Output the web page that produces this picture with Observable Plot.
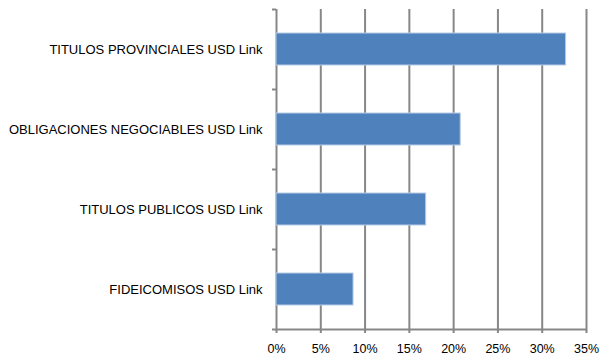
<!DOCTYPE html>
<html>
<head>
<meta charset="utf-8">
<script src="https://cdn.jsdelivr.net/npm/d3@7"></script>
<script src="https://cdn.jsdelivr.net/npm/@observablehq/plot@0.6"></script>
<style>
  html, body { margin: 0; padding: 0; background: #fff; }
  #chart svg { display: block; }
</style>
</head>
<body>
<div id="chart"></div>
<script>
const categories = [
  "TITULOS PROVINCIALES USD Link",
  "OBLIGACIONES NEGOCIABLES USD Link",
  "TITULOS PUBLICOS USD Link",
  "FIDEICOMISOS USD Link"
];
const values = [0.327, 0.208, 0.169, 0.087];
const xTicks = [0, 0.05, 0.10, 0.15, 0.20, 0.25, 0.30, 0.35];

const data = categories.map((c, i) => ({category: c, value: values[i]}));

const W = 600, H = 355;
const mTop = 9, mBottom = 26, mLeft = 276, mRight = 14;
const half = (H - mTop - mBottom) / categories.length / 2;
const tickLen = 4 * (xTicks[xTicks.length - 1] - xTicks[0]) / (W - mLeft - mRight);
const grey = "#878787";

const chart = Plot.plot({
  width: W,
  height: H,
  marginTop: mTop,
  marginBottom: mBottom,
  marginLeft: mLeft,
  marginRight: mRight,
  style: {fontFamily: "'Liberation Sans', Arial, sans-serif", fontSize: "12px", color: "#000", background: "#fff"},
  x: {domain: [xTicks[0], xTicks[xTicks.length - 1]], label: null},
  y: {domain: categories, paddingInner: 0.6, paddingOuter: 0.3, align: 0.5, label: null},
  marks: [
    Plot.ruleX(xTicks, {stroke: grey, strokeWidth: 2}),
    Plot.ruleY(categories, {x1: -tickLen, x2: 0, dy: -half, stroke: grey, strokeWidth: 2}),
    Plot.ruleY([categories[categories.length - 1]], {x1: -tickLen, x2: xTicks[xTicks.length - 1], dy: half, stroke: grey, strokeWidth: 2}),
    Plot.barX(data, {y: "category", x: "value", fill: "#4F81BD", stroke: "#B9CDE5", strokeWidth: 1}),
    Plot.axisX({ticks: xTicks, tickFormat: d3.format(".0%"), tickSize: 4, tickPadding: 11, stroke: grey, strokeWidth: 2, fontSize: 12.5, fill: "#000", label: null}),
    Plot.axisY({tickSize: 0, tickPadding: 14, fontSize: 13, fill: "#000", label: null})
  ]
});
document.getElementById("chart").appendChild(chart);
</script>
</body>
</html>
